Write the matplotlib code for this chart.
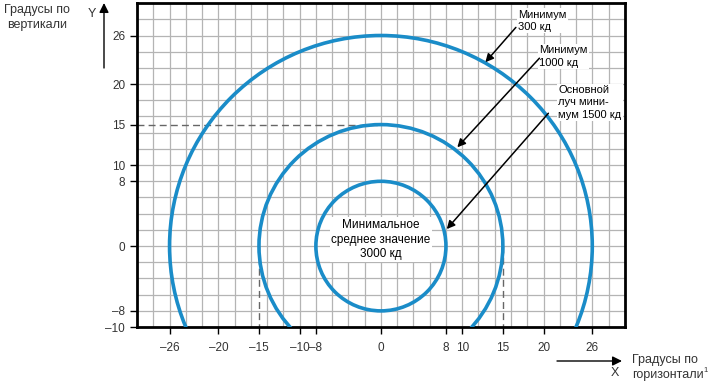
import matplotlib
matplotlib.use("Agg")
import numpy as np
import matplotlib.pyplot as plt
from matplotlib.patches import Circle

plt.rcParams["font.family"] = ["Liberation Sans", "DejaVu Sans"]

# zones (radius in degrees) and their captions
radii = [26, 15, 8]
x_ticks = [-26, -20, -15, -10, -8, 0, 8, 10, 15, 20, 26]
y_ticks = [-10, -8, 0, 8, 10, 15, 20, 26]
labels = ["Минимум\n300 кд", "Минимум\n1000 кд", "Основной\nлуч мини-\nмум 1500 кд"]
label_pos = [(16.9, 29.2), (19.5, 24.8), (21.8, 19.9)]
arrow_tail = [(16.6, 27.0), (19.5, 23.2), (20.6, 16.4)]
arrow_head = [(12.85, 22.7), (9.4, 12.2), (8.1, 2.1)]
center_label = "Минимальное\nсреднее значение\n3000 кд"


def fmt(v):
    return str(v).replace("-", "\u2013")


blue = "#1a8cc8"

fig = plt.figure(figsize=(7.10, 3.88), dpi=100)
ax = fig.add_axes([0.193, 0.157, 0.687, 0.835])
ax.set_xlim(-30, 30)
ax.set_ylim(-10, 30)

# 2-degree grid
for g in np.arange(-28, 30, 2):
    ax.axvline(g, color="#b4b4b4", lw=0.9, zorder=0)
for g in np.arange(-8, 30, 2):
    ax.axhline(g, color="#b4b4b4", lw=0.9, zorder=0)

ax.set_xticks(x_ticks, [fmt(v) for v in x_ticks])
ax.set_yticks(y_ticks, [fmt(v) for v in y_ticks])
ax.tick_params(length=5, width=1, labelsize=8.5, labelcolor="#333333",
               direction="out")
ax.tick_params(axis="x", pad=6)
for sp in ax.spines.values():
    sp.set_linewidth(2)

# helper dashed lines
ax.plot([-30, 0], [15, 15], ls=(0, (5, 3)), color="#666666", lw=1, zorder=1)
for xv in (-15, 15):
    ax.plot([xv, xv], [0, -10], ls=(0, (5, 3)), color="#666666", lw=1, zorder=1)

for r in radii:
    ax.add_patch(Circle((0, 0), r, fill=False, ec=blue, lw=2.6, zorder=3))

box = dict(facecolor="white", edgecolor="none", pad=1)
for txt, pos, tail, head in zip(labels, label_pos, arrow_tail, arrow_head):
    ax.annotate("", xy=head, xytext=tail, zorder=5,
                arrowprops=dict(arrowstyle="-|>", color="black", lw=1.1,
                                mutation_scale=12, shrinkA=0, shrinkB=0))
    ax.text(pos[0], pos[1], txt, ha="left", va="top", fontsize=8,
            linespacing=1.3, bbox=box, zorder=4)

ax.text(0, 0.8, center_label, ha="center", va="center", fontsize=8.5,
        linespacing=1.3, bbox=box, zorder=4)

# axis captions outside the plot
fig.text(37 / 710, 1 - 4 / 388, "Градусы по\nвертикали", ha="center", va="top",
         fontsize=9, color="#333333", linespacing=1.3)
fig.text(92 / 710, 1 - 14 / 388, "Y", ha="center", va="center", fontsize=9,
         color="#333333")
ax.annotate("", xy=(104 / 710, 1 - 3 / 388), xytext=(104 / 710, 1 - 68 / 388),
            xycoords="figure fraction", textcoords="figure fraction",
            arrowprops=dict(arrowstyle="-|>", color="black", lw=1,
                            mutation_scale=14, shrinkA=0, shrinkB=0))
ax.annotate("", xy=(622 / 710, 1 - 361 / 388), xytext=(557 / 710, 1 - 361 / 388),
            xycoords="figure fraction", textcoords="figure fraction",
            arrowprops=dict(arrowstyle="-|>", color="black", lw=1,
                            mutation_scale=14, shrinkA=0, shrinkB=0))
fig.text(615 / 710, 1 - 373 / 388, "X", ha="center", va="center", fontsize=9,
         color="#333333")
fig.text(632 / 710, 1 - 354 / 388, "Градусы по\nгоризонтали", ha="left", va="top",
         fontsize=9, color="#333333", linespacing=1.3)
fig.text(703 / 710, 1 - 370 / 388, "1", ha="left", va="center", fontsize=5.5,
         color="#333333")

fig.savefig("out.png", dpi=100)
